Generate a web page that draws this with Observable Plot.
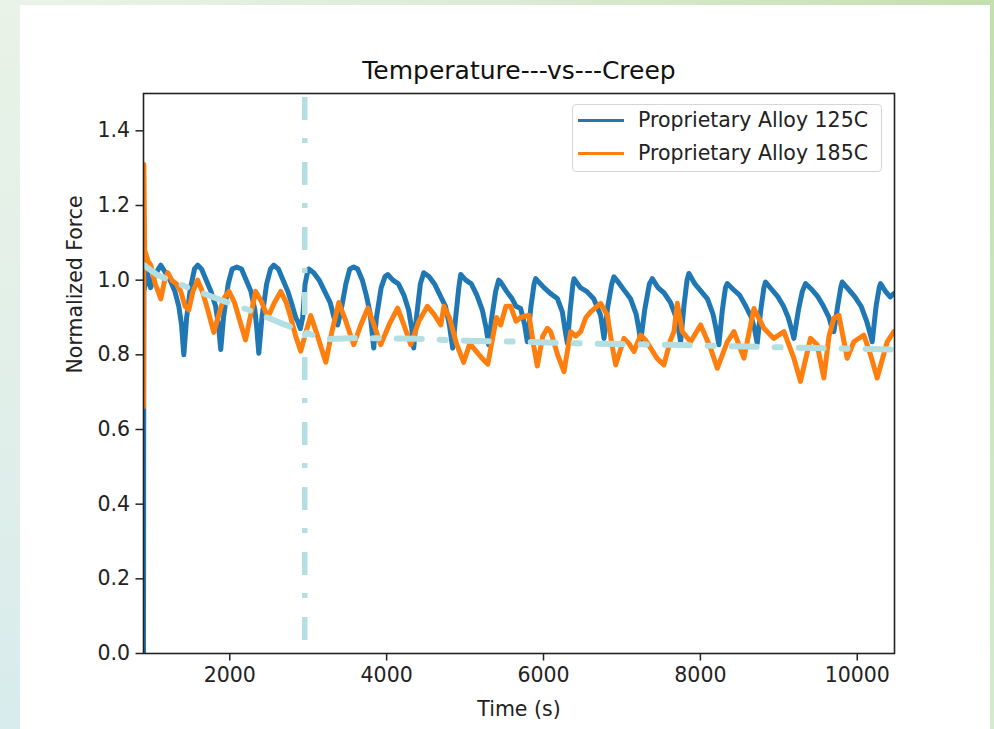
<!DOCTYPE html>
<html>
<head>
<meta charset="utf-8">
<script src="https://cdn.jsdelivr.net/npm/d3@7"></script>
<script src="https://cdn.jsdelivr.net/npm/@observablehq/plot@0.6"></script>
<style>
  html, body { margin: 0; padding: 0; }
  body {
    width: 994px; height: 729px; overflow: hidden; position: relative;
    background: linear-gradient(170deg, #e9f3e6 0%, #dfeeea 55%, #d3eaee 100%);
    font-family: "DejaVu Sans", sans-serif;
  }
  #topstrip { position: absolute; left: 0; top: 0; width: 994px; height: 5px;
    background: linear-gradient(to right, #eaf3e8 0%, #dcebd5 50%, #c4e0ae 100%); }
  #rightstrip { position: absolute; left: 990px; top: 0; width: 4px; height: 729px;
    background: linear-gradient(to bottom, #c4e0ae, #d5ead0); }
  #card { position: absolute; left: 20px; top: 5px; width: 970px; height: 724px; background: #fff; }
  #chart { position: absolute; left: 0; top: 0; }
  #legend { position: absolute; left: 572px; top: 104px; width: 310px; height: 68px;
    border: 1px solid #d6d6d6; border-radius: 4px; background: rgba(255,255,255,0.85); box-sizing: border-box; }
  .row { position: absolute; left: 0; height: 30px; width: 100%; }
  .swatch { position: absolute; left: 5px; width: 46px; height: 3px; }
  .lab { position: absolute; left: 65px; font-size: 20.5px; color: #222; white-space: nowrap; line-height: 1; }
</style>
</head>
<body>
<div id="topstrip"></div>
<div id="rightstrip"></div>
<div id="card"></div>
<div id="chart"></div>
<div id="legend"></div>
<script>
// ---- Data ----
const titleText = "Temperature---vs---Creep";
const xLabel = "Time (s)";
const yLabel = "Normalized Force";
const seriesNames = ["Proprietary Alloy 125C", "Proprietary Alloy 185C"];
const seriesColors = ["#1f77b4", "#ff7f0e"];
const xTicks = [2000, 4000, 6000, 8000, 10000];
const yTicks = [0, 0.2, 0.4, 0.6, 0.8, 1.0, 1.2, 1.4];
const vlineTime = [2956];

// [time (s), normalized force]
const alloy125 = [
  [900,0],[904,0.97],[950,1.02],[990,0.98],[1040,1.01],[1090,1.03],
  [1121,1.04],[1180,1.02],[1240,1.0],[1300,0.97],[1350,0.93],[1385,0.88],[1414,0.80],[1450,0.9],[1500,0.98],[1550,1.03],
  [1592,1.04],[1640,1.03],[1700,1.0],[1760,0.97],[1820,0.93],[1855,0.88],[1885,0.814],[1920,0.9],[1980,0.99],[2030,1.03],
  [2090,1.035],[2150,1.03],[2210,1.0],[2270,0.97],[2320,0.92],[2345,0.87],[2370,0.804],[2410,0.9],[2470,0.99],[2520,1.03],
  [2561,1.04],[2620,1.03],[2680,1.0],[2740,0.97],[2800,0.93],[2840,0.9],[2867,0.889],[2900,0.87],[2930,0.9],[2960,0.99],[2990,1.02],
  [3007,1.03],[3070,1.02],[3140,1.0],[3210,0.97],[3280,0.94],[3330,0.9],[3376,0.88],[3420,0.92],[3480,0.99],[3530,1.03],
  [3580,1.035],[3630,1.03],[3690,1.0],[3740,0.96],[3790,0.91],[3815,0.86],[3835,0.818],[3870,0.9],[3930,0.98],[3980,1.01],
  [4014,1.015],[4080,1.0],[4150,0.99],[4220,0.96],[4280,0.92],[4320,0.87],[4345,0.818],[4380,0.9],[4430,0.99],
  [4473,1.02],[4540,1.01],[4610,0.99],[4680,0.96],[4750,0.93],[4800,0.88],[4842,0.818],[4880,0.9],[4920,0.98],
  [4944,1.015],[5010,1.0],[5080,0.99],[5150,0.96],[5220,0.92],[5270,0.87],[5300,0.827],[5340,0.9],[5390,0.97],
  [5428,1.0],[5454,0.995],[5530,0.97],[5600,0.95],[5650,0.93],[5709,0.924],[5760,0.88],[5794,0.835],[5840,0.93],[5880,0.99],
  [5900,1.004],[6006,0.98],[6091,0.964],[6176,0.951],[6240,0.915],[6280,0.86],[6304,0.831],[6340,0.92],[6375,0.99],
  [6389,1.004],[6470,0.98],[6550,0.97],[6640,0.95],[6728,0.906],[6771,0.844],[6820,0.93],[6870,0.99],
  [6898,1.009],[6970,0.99],[7040,0.97],[7110,0.95],[7180,0.91],[7215,0.87],[7238,0.835],[7290,0.92],[7350,0.99],
  [7387,1.004],[7460,0.98],[7540,0.965],[7620,0.94],[7690,0.9],[7720,0.87],[7748,0.835],[7790,0.93],[7830,1.0],
  [7854,1.018],[7930,0.99],[8010,0.97],[8090,0.95],[8160,0.91],[8200,0.87],[8236,0.827],[8280,0.92],[8320,0.98],
  [8343,0.991],[8420,0.975],[8500,0.96],[8580,0.93],[8650,0.9],[8690,0.87],[8725,0.831],[8770,0.92],[8810,0.98],
  [8831,0.995],[8910,0.975],[8990,0.955],[9060,0.93],[9120,0.9],[9160,0.87],[9192,0.844],[9250,0.92],[9300,0.97],
  [9341,0.991],[9420,0.975],[9500,0.955],[9570,0.93],[9640,0.9],[9680,0.87],[9702,0.862],[9750,0.93],[9790,0.98],
  [9808,0.995],[9890,0.975],[9970,0.955],[10050,0.93],[10120,0.89],[10160,0.86],[10191,0.835],[10240,0.93],[10280,0.98],
  [10297,0.991],[10360,0.97],[10420,0.955],[10467,0.964]
];

const alloy185 = [
  [900,0.66],[905,1.31],[915,1.08],[960,1.05],[993,1.04],[1050,0.99],[1121,0.95],[1170,1.0],[1210,1.02],[1260,1.0],
  [1320,0.99],[1375,0.97],[1430,0.93],[1477,0.92],[1530,0.97],[1590,1.0],[1650,0.97],[1720,0.92],[1796,0.86],[1850,0.9],
  [1920,0.95],[1990,0.97],[2060,0.94],[2130,0.89],[2200,0.84],[2260,0.9],[2330,0.97],[2410,0.94],[2485,0.9],[2570,0.94],
  [2650,0.97],[2720,0.94],[2777,0.9],[2840,0.85],[2905,0.81],[2970,0.86],[3032,0.905],[3120,0.85],[3224,0.78],[3300,0.86],
  [3390,0.94],[3480,0.89],[3580,0.827],[3670,0.88],[3760,0.925],[3840,0.88],[3924,0.827],[4030,0.88],[4140,0.925],[4220,0.88],
  [4307,0.827],[4410,0.89],[4520,0.93],[4600,0.91],[4690,0.88],[4730,0.93],[4800,0.9],[4890,0.83],[4982,0.78],[5060,0.83],
  [5140,0.81],[5220,0.79],[5290,0.775],[5400,0.9],[5454,0.88],[5520,0.93],[5581,0.93],[5650,0.89],[5709,0.9],[5815,0.906],
  [5870,0.83],[5921,0.77],[5990,0.85],[6049,0.871],[6091,0.862],[6180,0.8],[6261,0.755],[6346,0.862],[6410,0.85],[6474,0.862],
  [6540,0.9],[6601,0.915],[6728,0.938],[6814,0.906],[6870,0.83],[6920,0.773],[7026,0.844],[7090,0.83],[7153,0.809],[7238,0.853],
  [7300,0.84],[7366,0.818],[7450,0.79],[7535,0.773],[7620,0.84],[7663,0.862],[7706,0.938],[7769,0.862],[7875,0.835],[8003,0.88],
  [8130,0.818],[8215,0.764],[8343,0.835],[8428,0.862],[8555,0.791],[8683,0.924],[8810,0.871],[8937,0.844],[9065,0.862],[9192,0.791],
  [9276,0.729],[9404,0.844],[9489,0.827],[9574,0.738],[9640,0.85],[9702,0.898],[9766,0.906],[9872,0.791],[9957,0.835],[10084,0.853],
  [10170,0.8],[10254,0.738],[10382,0.835],[10467,0.862]
];

const trend = [
  [904,1.04],[1083,1.013],[1503,0.977],[1885,0.947],[2306,0.915],[2650,0.885],[3070,0.852],[3220,0.842],
  [3600,0.845],[4400,0.843],[5000,0.838],[5700,0.835],[6600,0.83],[7600,0.827],[8600,0.822],[9500,0.818],[10470,0.814]
];

// ---- Chart ----
const chart = Plot.plot({
  width: 994,
  height: 729,
  marginLeft: 143,
  marginRight: 100,
  marginTop: 93,
  marginBottom: 76,
  style: { fontFamily: "DejaVu Sans, sans-serif", fontSize: "20.5px", color: "#222", background: "transparent", overflow: "visible" },
  x: { domain: [900, 10475] },
  y: { domain: [0, 1.5] },
  marks: [
    Plot.line(alloy125, { x: d => d[0], y: d => d[1], stroke: seriesColors[0], strokeWidth: 5, strokeLinejoin: "round", clip: true }),
    Plot.line(alloy185, { x: d => d[0], y: d => d[1], stroke: seriesColors[1], strokeWidth: 5, strokeLinejoin: "round", clip: true }),
    Plot.line(trend, { x: d => d[0], y: d => d[1], stroke: "#b4dfe2", strokeWidth: 6, strokeDasharray: "25 18 6 18", clip: true }),
    Plot.ruleX(vlineTime, { x: d => d, y1: 1.5, y2: 0, stroke: "#b4dfe2", strokeWidth: 5.5, strokeDasharray: "23 18 5 19", strokeDashoffset: 61 }),
    Plot.frame({ stroke: "#222", strokeWidth: 1.6 }),
    Plot.axisX({ ticks: xTicks, tickFormat: d => String(d), tickSize: 7.5, tickPadding: 6, strokeWidth: 1.5, fontSize: 20.5, label: null }),
    Plot.axisY({ ticks: yTicks, tickFormat: d => d.toFixed(1), tickSize: 7.5, tickPadding: 6, strokeWidth: 1.5, fontSize: 20.5, label: null }),
    Plot.text([titleText], { text: d => d, frameAnchor: "top", dy: -15, lineAnchor: "bottom", fontSize: 25, fill: "#111" }),
    Plot.text([xLabel], { text: d => d, frameAnchor: "bottom", dy: 62, lineAnchor: "bottom", fontSize: 20.5, fill: "#222" }),
    Plot.text([yLabel], { text: d => d, frameAnchor: "left", dx: -62, rotate: -90, lineAnchor: "bottom", fontSize: 20.5, fill: "#222" })
  ]
});
document.getElementById("chart").appendChild(chart);

// Legend
const legend = document.getElementById("legend");
seriesNames.forEach((name, i) => {
  const row = document.createElement("div");
  row.className = "row";
  row.style.top = (i === 0 ? 1 : 34) + "px";
  const sw = document.createElement("div");
  sw.className = "swatch";
  sw.style.background = seriesColors[i];
  sw.style.top = "13px";
  const lab = document.createElement("div");
  lab.className = "lab";
  lab.style.top = "4px";
  lab.textContent = name;
  row.appendChild(sw);
  row.appendChild(lab);
  legend.appendChild(row);
});
</script>
</body>
</html>
